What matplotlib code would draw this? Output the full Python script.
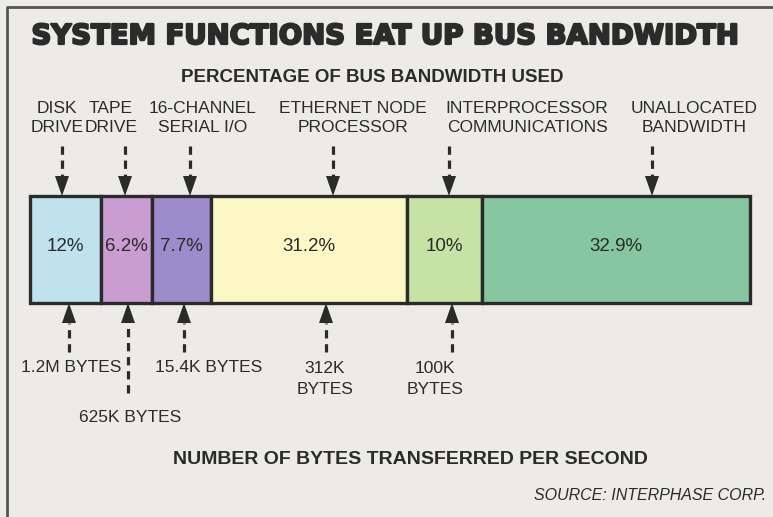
import matplotlib
matplotlib.use("Agg")
import matplotlib.pyplot as plt
import matplotlib.patheffects as pe
import numpy as np

# Data
functions = [
    "DISK\nDRIVE", "TAPE\nDRIVE", "16-CHANNEL\nSERIAL I/O",
    "ETHERNET NODE\nPROCESSOR", "INTERPROCESSOR\nCOMMUNICATIONS",
    "UNALLOCATED\nBANDWIDTH",
]
pct_used = [12, 6.2, 7.7, 31.2, 10, 32.9]
# segment lengths as the artist drew them (share of the bar, not to scale)
drawn_width = [9.9, 7.1, 8.2, 27.2, 10.4, 37.2]
byte_rates = ["1.2M BYTES", "625K BYTES", "15.4K BYTES", "312K\nBYTES", "100K\nBYTES"]

seg_colors = ["#bfe2ee", "#c99dd0", "#9d8bcb", "#fbf8c6", "#c6e2a4", "#86c6a0"]
INK = "#2b2b2b"
PAPER = "#ecebe7"
FONT = ["Liberation Sans", "DejaVu Sans"]

# layout (pixel units of the 773x517 canvas)
top_arrow_x = [62, 125, 190, 333, 449, 652]
top_label_x = [57, 111, 203, 353, 527, 694]
bot_arrow_x = [69, 128, 184, 326, 452]
bot_label_x = [71, 130, 209, 325, 435]
bot_label_y = [368, 418, 368, 379, 379]
bot_tail_y = [352, 393, 352, 352, 352]
BAR_TOP, BAR_BOT, BAR_L, BAR_R = 196, 303, 30, 750

fig = plt.figure(figsize=(7.73, 5.17), dpi=100, facecolor=PAPER)
lay = fig.add_axes([0, 0, 1, 1])
lay.set_xlim(0, 773)
lay.set_ylim(517, 0)
lay.axis("off")

# frame (top and left edges are what survive in the scan)
lay.plot([7, 7, 773], [517, 7, 7], color="#555555", lw=2, solid_capstyle="butt")

# heavy display title: bold face thickened with a stroke
lay.text(385, 36, "SYSTEM FUNCTIONS EAT UP BUS BANDWIDTH", ha="center", va="center",
         fontsize=19.8, fontweight="bold", family=["DejaVu Sans"], color=INK,
         path_effects=[pe.withStroke(linewidth=1.6, foreground=INK)])
lay.text(372, 77, "PERCENTAGE OF BUS BANDWIDTH USED", ha="center", va="center",
         fontsize=13.5, fontweight="bold", family=FONT, color=INK)
lay.text(410, 459, "NUMBER OF BYTES TRANSFERRED PER SECOND", ha="center", va="center",
         fontsize=14, fontweight="bold", family=FONT, color=INK)
lay.text(766, 495, "SOURCE: INTERPHASE CORP.", ha="right", va="center",
         fontsize=11.5, style="italic", family=FONT, color=INK)


def dashed_arrow(x, y_tail, y_tip):
    d = np.sign(y_tip - y_tail)
    base = y_tip - d * 20
    lay.plot([x, x], [y_tail, base], color=INK, lw=2.3, dashes=(2.6, 1.8),
             solid_capstyle="butt", dash_capstyle="butt")
    lay.fill([x - 7, x + 7, x], [base, base, y_tip], color=INK, lw=0)


for name, ax_x, lx in zip(functions, top_arrow_x, top_label_x):
    lay.text(lx, 118, name, ha="center", va="center", fontsize=12.5,
             family=FONT, color=INK, linespacing=1.3)
    dashed_arrow(ax_x, 146, BAR_TOP)

for rate, ax_x, lx, ly, ty in zip(byte_rates, bot_arrow_x, bot_label_x, bot_label_y, bot_tail_y):
    lay.text(lx, ly, rate, ha="center", va="center", fontsize=12.5,
             family=FONT, color=INK, linespacing=1.45)
    dashed_arrow(ax_x, ty, BAR_BOT)

# the stacked bar itself
bar = fig.add_axes([BAR_L / 773, (517 - BAR_BOT) / 517,
                    (BAR_R - BAR_L) / 773, (BAR_BOT - BAR_TOP) / 517])
lefts = np.concatenate([[0], np.cumsum(drawn_width)[:-1]])
bar.barh(0, drawn_width, left=lefts, height=1, color=seg_colors,
         edgecolor=INK, linewidth=2.4, clip_on=False)
for l, w, p in zip(lefts, drawn_width, pct_used):
    bar.text(l + w / 2, 0.03, f"{p:g}%", ha="center", va="center",
             fontsize=13.5, family=FONT, color=INK)
bar.set_xlim(0, sum(drawn_width))
bar.set_ylim(-0.5, 0.5)
bar.axis("off")

fig.savefig("out.png", dpi=100, facecolor=PAPER)
plt.close(fig)
